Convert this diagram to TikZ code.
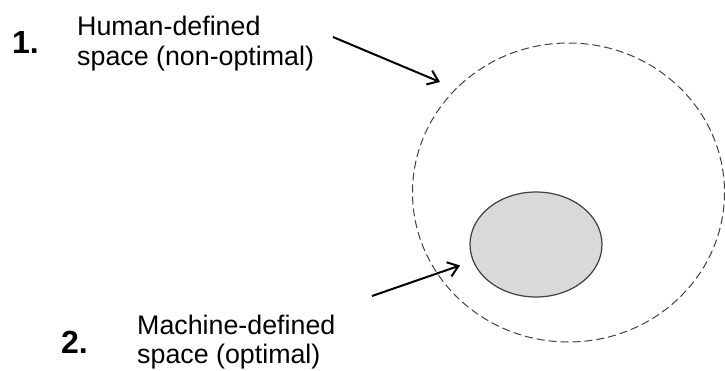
\documentclass[tikz,border=0pt]{standalone}
\usepackage{fontspec}
\setmainfont{Liberation Sans}
\usetikzlibrary{arrows.meta,shapes.geometric}

\tikzset{
  label text/.style={inner sep=0pt, anchor=base west, font=\fontsize{26.8}{30}\selectfont},
  num text/.style={inner sep=0pt, anchor=base west, font=\fontsize{32}{36}\selectfont\bfseries},
  pointer/.style={line width=2pt, -{Straight Barb[length=10pt,width=15pt,line width=2pt]}},
  outer space/.style={draw=black!75, line width=1pt, dash pattern=on 8pt off 4pt},
  inner space/.style={draw=black!75, fill=black!15, line width=1.2pt}
}

\begin{document}
\begin{tikzpicture}[x=1pt,y=-1pt]
  \useasboundingbox (0,0) rectangle (725,370);

  % regions
  \draw[outer space] (568.5,192.5) ellipse [x radius=156, y radius=149.5];
  \node[inner space, ellipse, minimum width=132pt, minimum height=105pt, inner sep=0pt] (optimal) at (536,244.5) {};

  % labels
  \node[num text] (n1) at (12,53) {1.};
  \node[label text] (h1) at (77,35) {Human-defined};
  \node[label text] (h2) at (77,65) {space (non-optimal)};

  \node[num text] (n2) at (61,353) {2.};
  \node[label text] (m1) at (137,334) {Machine-defined};
  \node[label text] (m2) at (137,363) {space (optimal)};

  % pointers
  \coordinate (p1s) at (333,37);
  \coordinate (p1e) at (440,82);
  \coordinate (p2s) at (372,296);
  \coordinate (p2e) at (460,265.5);
  \draw[pointer] (p1s) -- (p1e);
  \draw[pointer] (p2s) -- (p2e);
\end{tikzpicture}
\end{document}
